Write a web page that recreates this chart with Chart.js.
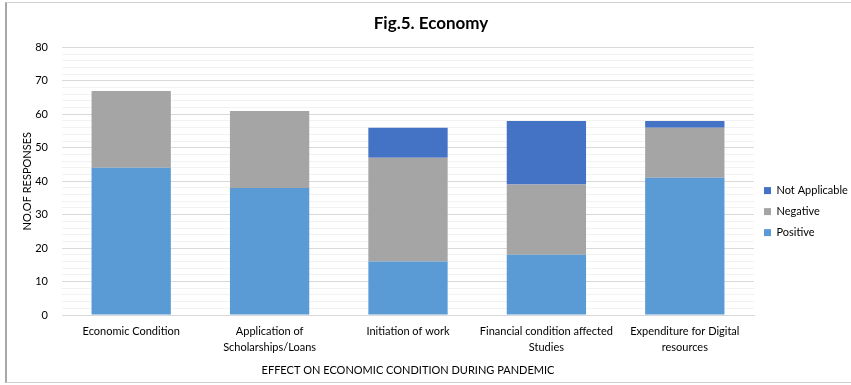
<!DOCTYPE html>
<html>
<head>
<meta charset="utf-8">
<script src="https://cdn.jsdelivr.net/npm/chart.js@4/dist/chart.umd.min.js"></script>
<style>
html,body{margin:0;padding:0;background:#fff;overflow:hidden;}
#wrap{position:absolute;left:5px;top:2px;width:846px;height:381px;border-top:1px solid #d0d0d0;border-bottom:1px solid #d0d0d0;border-left:2px solid #a8a8a8;box-sizing:border-box;background:#fff;}
canvas{display:block;}
</style>
</head>
<body>
<div id="wrap"><canvas id="c"></canvas></div>
<script>
const categories = [
  "Economic Condition",
  ["Application of", "Scholarships/Loans"],
  "Initiation of work",
  ["Financial condition affected", "Studies"],
  ["Expenditure for Digital", "resources"]
];
const positive = [44, 38, 16, 18, 41];
const negative = [23, 23, 31, 21, 15];
const notApplicable = [0, 0, 9, 19, 2];
const seriesNames = ["Positive", "Negative", "Not Applicable"];
const seriesColors = ["#5B9BD5", "#A5A5A5", "#4472C4"];

const font = "Lato, 'Open Sans', sans-serif";
Chart.defaults.font.family = font;
Chart.defaults.color = "#595959";

new Chart(document.getElementById("c"), {
  type: "bar",
  data: {
    labels: categories,
    datasets: [
      { label: seriesNames[0], data: positive, backgroundColor: seriesColors[0] },
      { label: seriesNames[1], data: negative, backgroundColor: seriesColors[1] },
      { label: seriesNames[2], data: notApplicable, backgroundColor: seriesColors[2] }
    ]
  },
  options: {
    responsive: true,
    maintainAspectRatio: false,
    animation: false,
    layout: { padding: { left: 4, right: 0, top: 4, bottom: 1 } },
    datasets: { bar: { categoryPercentage: 1.0, barPercentage: 0.573 } },
    plugins: {
      title: {
        display: true,
        text: "Fig.5. Economy",
        color: "#000",
        font: { size: 17, weight: "bold", family: font },
        padding: { top: 6, bottom: 14 }
      },
      legend: {
        position: "right",
        reverse: true,
        align: "center",
        maxWidth: 97,
        title: { display: true, text: " ", padding: { top: 34, bottom: 0 }, font: { size: 1 } },
        labels: {
          boxWidth: 7, boxHeight: 7, padding: 10,
          color: "#000",
          font: { size: 11, family: font }
        }
      },
      tooltip: { enabled: false }
    },
    scales: {
      x: {
        stacked: true,
        grid: { display: false, drawTicks: false },
        border: { color: "#d9d9d9" },
        ticks: { color: "#000", font: { size: 11, lineHeight: 1.4 }, padding: 9, maxRotation: 0, autoSkip: false },
        title: { display: true, text: "EFFECT ON ECONOMIC CONDITION DURING PANDEMIC", color: "#000", font: { size: 11 }, padding: { top: 0, bottom: 4 } }
      },
      y: {
        stacked: true,
        min: 0, max: 80,
        afterFit: scale => { scale.width = 51; },
        ticks: {
          stepSize: 2,
          color: "#000",
          font: { size: 11 },
          padding: 14,
          autoSkip: false,
          callback: v => (v % 10 === 0 ? v : "")
        },
        grid: {
          drawTicks: false,
          color: ctx => (ctx.tick && ctx.tick.value % 10 === 0 ? "#d9d9d9" : "#f2f2f2"),
          lineWidth: 1
        },
        border: { display: false },
        title: { display: true, text: "NO.OF RESPONSES", color: "#000", font: { size: 11 }, padding: { top: 10, bottom: 0 } }
      }
    }
  }
});
</script>
</body>
</html>
